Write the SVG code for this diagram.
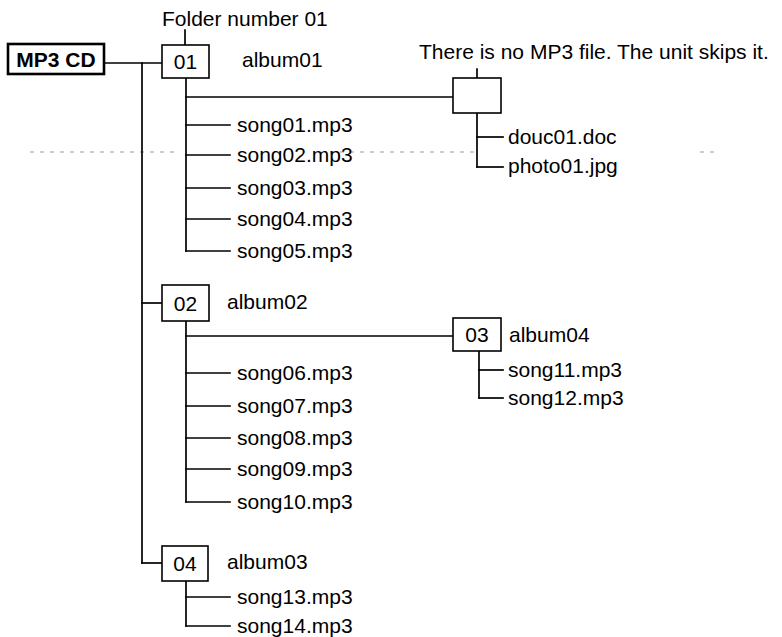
<svg xmlns="http://www.w3.org/2000/svg" width="782" height="637" viewBox="0 0 782 637">
<style>
text { font-family: "Liberation Sans", Arial, Helvetica, sans-serif; font-size: 21px; fill: #000; }
.b { font-weight: bold; }
.c { text-anchor: middle; }
.box { fill: #fff; stroke: #000; stroke-width: 1.6; }
.thick { fill: #fff; stroke: #000; stroke-width: 2.6; }
.ln { stroke: #000; stroke-width: 1.7; fill: none; stroke-linecap: square; }
.scan { stroke: #9a9a9a; stroke-width: 1; stroke-dasharray: 4 6; fill: none; }
</style>
<rect width="782" height="637" fill="#fff"/>
<g id="scanline">
<line class="scan" x1="30" y1="152" x2="180" y2="152"/>
<line class="scan" x1="330" y1="152" x2="475" y2="152"/>
<line class="scan" x1="700" y1="152" x2="720" y2="152"/>
</g>
<g id="connectors">
<line class="ln" x1="185" y1="30" x2="185" y2="45"/>
<line class="ln" x1="104" y1="63" x2="162" y2="63"/>
<line class="ln" x1="142" y1="63" x2="142" y2="563"/>
<line class="ln" x1="186" y1="78" x2="186" y2="251"/>
<line class="ln" x1="186" y1="97" x2="453" y2="97"/>
<line class="ln" x1="477" y1="69" x2="477" y2="78"/>
<line class="ln" x1="477" y1="113" x2="477" y2="167"/>
<line class="ln" x1="477" y1="137" x2="503" y2="137"/>
<line class="ln" x1="477" y1="167" x2="503" y2="167"/>
<line class="ln" x1="186" y1="125" x2="230" y2="125"/>
<line class="ln" x1="186" y1="155" x2="230" y2="155"/>
<line class="ln" x1="186" y1="188" x2="230" y2="188"/>
<line class="ln" x1="186" y1="219" x2="230" y2="219"/>
<line class="ln" x1="186" y1="251" x2="230" y2="251"/>
<line class="ln" x1="142" y1="303" x2="162" y2="303"/>
<line class="ln" x1="186" y1="321" x2="186" y2="502"/>
<line class="ln" x1="186" y1="336" x2="453" y2="336"/>
<line class="ln" x1="186" y1="373" x2="230" y2="373"/>
<line class="ln" x1="186" y1="406" x2="230" y2="406"/>
<line class="ln" x1="186" y1="438" x2="230" y2="438"/>
<line class="ln" x1="186" y1="469" x2="230" y2="469"/>
<line class="ln" x1="186" y1="502" x2="230" y2="502"/>
<line class="ln" x1="479" y1="351" x2="479" y2="398"/>
<line class="ln" x1="479" y1="370" x2="503" y2="370"/>
<line class="ln" x1="479" y1="398" x2="503" y2="398"/>
<line class="ln" x1="142" y1="563" x2="162" y2="563"/>
<line class="ln" x1="186" y1="581" x2="186" y2="626"/>
<line class="ln" x1="186" y1="597" x2="230" y2="597"/>
<line class="ln" x1="186" y1="626" x2="230" y2="626"/>
</g>
<g id="label-folder-number">
<text x="162" y="26">Folder number 01</text>
</g>
<g id="label-skip">
<text x="419" y="59">There is no MP3 file. The unit skips it.</text>
</g>
<g id="node-mp3cd">
<rect class="thick" x="8" y="44" width="96" height="30"/>
<text class="b" x="56" y="67" text-anchor="middle">MP3 CD</text>
</g>
<g id="node-01">
<rect class="box" x="162" y="45" width="47" height="33"/>
<text class="c" x="185.5" y="69">01</text>
<text x="242" y="67">album01</text>
</g>
<g id="node-empty">
<rect class="box" x="453" y="78" width="48" height="35"/>
</g>
<g id="files-empty">
<text x="508" y="144">douc01.doc</text>
<text x="508" y="173">photo01.jpg</text>
</g>
<g id="songs-01">
<text x="237" y="132">song01.mp3</text>
<text x="237" y="162">song02.mp3</text>
<text x="237" y="195">song03.mp3</text>
<text x="237" y="226">song04.mp3</text>
<text x="237" y="258">song05.mp3</text>
</g>
<g id="node-02">
<rect class="box" x="162" y="285" width="47" height="36"/>
<text class="c" x="185.5" y="311">02</text>
<text x="227" y="309">album02</text>
</g>
<g id="songs-02">
<text x="237" y="380">song06.mp3</text>
<text x="237" y="413">song07.mp3</text>
<text x="237" y="445">song08.mp3</text>
<text x="237" y="476">song09.mp3</text>
<text x="237" y="509">song10.mp3</text>
</g>
<g id="node-03">
<rect class="box" x="453" y="318" width="48" height="33"/>
<text class="c" x="477" y="342">03</text>
<text x="509" y="342">album04</text>
</g>
<g id="songs-03">
<text x="508" y="377">song11.mp3</text>
<text x="508" y="405">song12.mp3</text>
</g>
<g id="node-04">
<rect class="box" x="162" y="546" width="46" height="35"/>
<text class="c" x="185" y="571">04</text>
<text x="227" y="569">album03</text>
</g>
<g id="songs-04">
<text x="237" y="604">song13.mp3</text>
<text x="237" y="633">song14.mp3</text>
</g>
</svg>
